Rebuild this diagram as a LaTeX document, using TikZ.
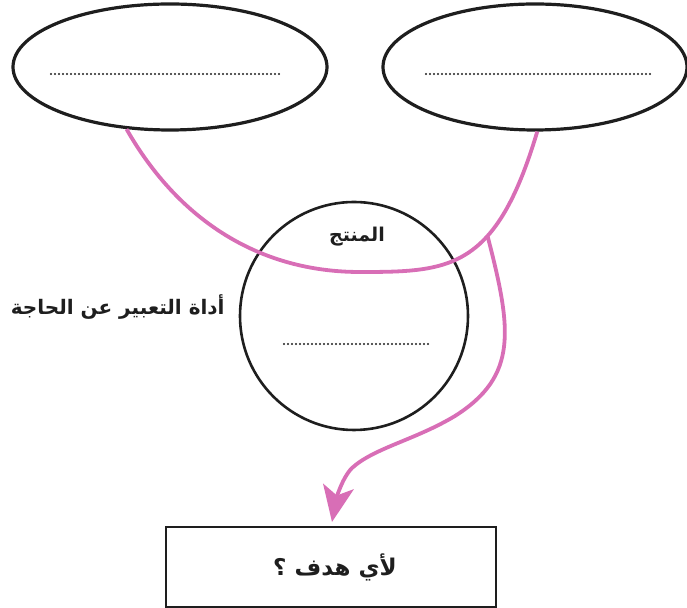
\documentclass[tikz,border=0pt]{standalone}
\usepackage{fontspec}
\TeXXeTstate=1
\newfontfamily\arabicfont[Script=Arabic]{DejaVu Sans}
\usetikzlibrary{shapes.geometric,arrows.meta}

\definecolor{inkline}{RGB}{30,30,30}
\definecolor{linkpink}{RGB}{216,110,182}

\tikzset{
  bubble/.style={draw=inkline, line width=1.6pt, ellipse, inner sep=0pt},
  core/.style={draw=inkline, line width=1.3pt, circle, inner sep=0pt},
  goalbox/.style={draw=inkline, line width=1pt, rectangle, inner sep=0pt},
  artext/.style={text=inkline, inner sep=0pt},
  dotline/.style={line width=1.1pt, line cap=round, dash pattern=on 0pt off 2pt, inkline},
  pinkline/.style={draw=linkpink, line width=1.9pt},
}

\begin{document}
\begin{tikzpicture}[x=0.5pt,y=-0.5pt]
\useasboundingbox (0,0) rectangle (687,608);

% the two ellipses at the top
\node[bubble, minimum width=157pt, minimum height=63pt] (L) at (170,67) {};
\node[bubble, minimum width=152pt, minimum height=63pt] (R) at (535,67) {};

% the product circle
\node[core, minimum size=114pt] (P) at (354,316) {};

% the goal box
\node[goalbox, minimum width=165pt, minimum height=40pt] (G) at (331,567) {};

% texts
\node[artext, font=\arabicfont\bfseries\fontsize{9.5}{12}\selectfont] (ptitle) at (357,237) {\beginR المنتج\endR};
\node[artext, font=\arabicfont\bfseries\fontsize{10}{12}\selectfont, anchor=east] (need) at (225,307) {\beginR أداة التعبير عن الحاجة\endR};
\node[artext, font=\arabicfont\bfseries\fontsize{11.5}{14}\selectfont] (gtext) at (335,567) {\beginR لأي هدف ؟\endR};

% blanks to fill in
\draw[dotline] (51,74) -- (279,74);
\draw[dotline] (426,74) -- (653,74);
\draw[dotline] (284,344) -- (430,344);

% pink link between the ellipses, through the circle
\coordinate (low) at (360,272);
\draw[pinkline] (L.235) .. controls (179,221) and (260,272) .. (low)
  .. controls (450,272) and (496,270) .. (R.272) coordinate[pos=0.63] (br);

% pink arrow down to the goal box
\coordinate (bendA) at (455,416);
\coordinate (bendB) at (352,468);
\coordinate (tip) at (332,522);
\draw[pinkline, -{Stealth[length=18pt, width=15.5pt, inset=4.5pt]}]
  (br) .. controls (512,330) and (518,376) .. (bendA)
  .. controls (415,440) and (374,448) .. (bendB)
  .. controls (342,478) and (336,500) .. (tip);
\end{tikzpicture}
\end{document}
